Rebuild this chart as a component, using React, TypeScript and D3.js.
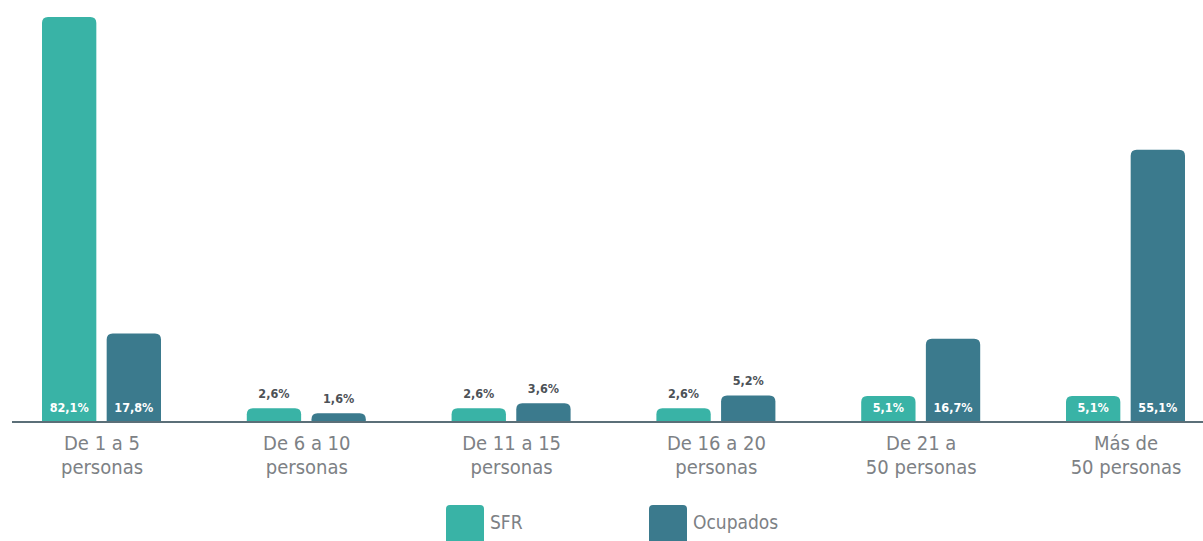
import React from "react";
import * as d3 from "d3";

const categories = [
  ["De 1 a 5", "personas"],
  ["De 6 a 10", "personas"],
  ["De 11 a 15", "personas"],
  ["De 16 a 20", "personas"],
  ["De 21 a", "50 personas"],
  ["Más de", "50 personas"],
];
const sfr = [82.1, 2.6, 2.6, 2.6, 5.1, 5.1];
const ocupados = [17.8, 1.6, 3.6, 5.2, 16.7, 55.1];
const seriesNames = ["SFR", "Ocupados"];
// labels drawn above the bar instead of inside it: [category index, series index]
const outsideLabels = [[1, 0], [1, 1], [2, 0], [2, 1], [3, 0], [3, 1]];

const W = 1203;
const H = 541;
const colors = ["#39b3a6", "#3b7a8d"];
const baseY = 421;
const font = "'DejaVu Sans Condensed', 'DejaVu Sans', sans-serif";

const fmt = (v: number) => v.toFixed(1).replace(".", ",") + "%";

function topRounded(x: number, y: number, w: number, h: number, r: number) {
  const rr = Math.min(r, h, w / 2);
  return `M${x},${y + h}V${y + rr}Q${x},${y} ${x + rr},${y}H${x + w - rr}Q${x + w},${y} ${x + w},${y + rr}V${y + h}Z`;
}

export default function App() {
  // one band per category group, each ~204.8px wide
  const x0 = d3
    .scaleBand<number>()
    .domain(categories.map((_, i) => i))
    .range([0, 204.8 * categories.length]);
  const x1 = d3.scaleBand<number>().domain([0, 1]).range([42, 161]).paddingInner(0.16);
  const y = d3.scaleLinear().domain([0, 82.1]).range([baseY, 17]);

  const series = [sfr, ocupados];
  const isOutside = (ci: number, si: number) =>
    outsideLabels.some(([a, b]) => a === ci && b === si);

  return (
    <div style={{ position: "absolute", left: 0, top: 0 }}>
      <svg width={W} height={H} style={{ display: "block", background: "#fff" }}>
        {categories.map((cat, ci) => (
          <g key={ci} transform={`translate(${x0(ci)},0)`}>
            {series.map((vals, si) => {
              const v = vals[ci];
              const bx = x1(si)!;
              const bw = x1.bandwidth();
              const top = y(v);
              const outside = isOutside(ci, si);
              return (
                <g key={si}>
                  <path d={topRounded(bx, top, bw, baseY - top, 6)} fill={colors[si]} />
                  <text
                    x={bx + bw / 2}
                    y={outside ? top - 10 : baseY - 9}
                    textAnchor="middle"
                    fontFamily={font}
                    fontWeight={700}
                    fontSize={12.5}
                    fill={outside ? "#4d5257" : "#ffffff"}
                  >
                    {fmt(v)}
                  </text>
                </g>
              );
            })}
            <text
              x={102}
              y={450}
              textAnchor="middle"
              fontFamily={font}
              fontSize={20}
              fill="#7d8185"
            >
              <tspan x={102}>{cat[0]}</tspan>
              <tspan x={102} dy={23.5}>{cat[1]}</tspan>
            </text>
          </g>
        ))}
        <line x1={12} x2={W} y1={baseY + 1} y2={baseY + 1} stroke="#5b6f78" strokeWidth={2} />
        {seriesNames.map((name, i) => (
          <g key={name} transform={`translate(${446 + i * 203},505)`}>
            <rect width={38} height={40} rx={4} fill={colors[i]} />
            <text x={44} y={24} fontFamily={font} fontSize={19} fill="#7d8185">
              {name}
            </text>
          </g>
        ))}
      </svg>
    </div>
  );
}
